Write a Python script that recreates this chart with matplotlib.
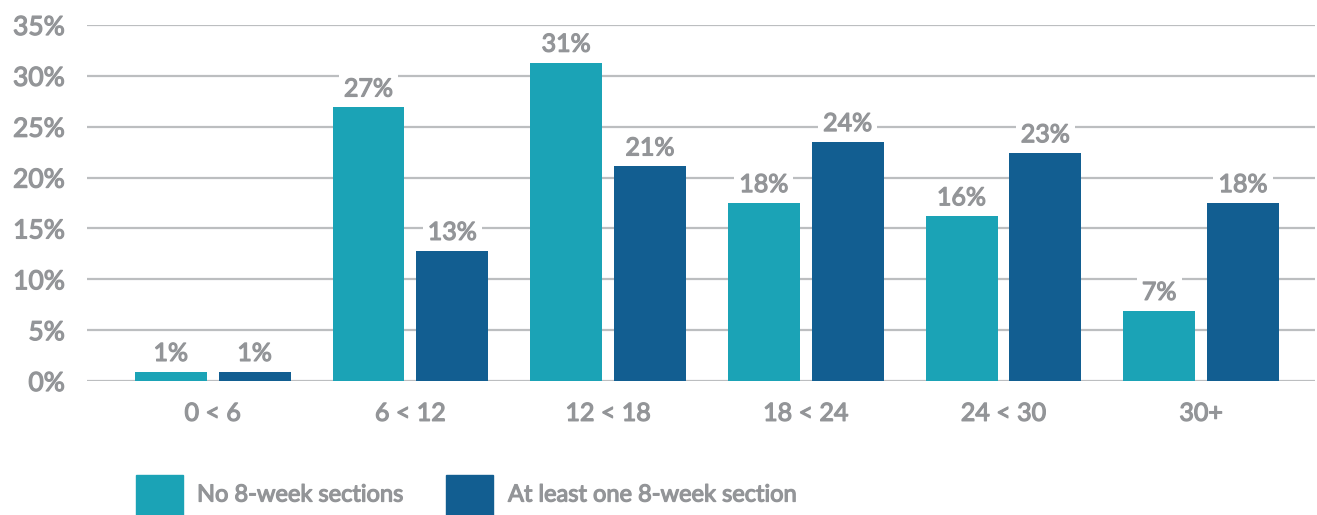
import matplotlib.pyplot as plt
import matplotlib.patheffects as pe
from matplotlib.patches import Rectangle
import numpy as np

plt.rcParams['font.family'] = ['Lato', 'DejaVu Sans']

categories = ['0 < 6', '6 < 12', '12 < 18', '18 < 24', '24 < 30', '30+']
no_8week = [0.9, 26.9, 31.3, 17.5, 16.2, 6.9]
one_8week = [0.9, 12.8, 21.1, 23.5, 22.4, 17.5]
no_labels = ['1%', '27%', '31%', '18%', '16%', '7%']
one_labels = ['1%', '13%', '21%', '24%', '23%', '18%']
series_names = ['No 8-week sections', 'At least one 8-week section']

teal = '#1BA3B6'
navy = '#125E91'
grey_txt = '#939598'
grid_col = '#BCBEC0'
thick = [pe.withStroke(linewidth=0.9, foreground=grey_txt)]

W, H = 1317, 515
fig = plt.figure(figsize=(W / 100, H / 100), dpi=100)
ax = fig.add_axes([87 / W, 1 - 381 / H, (1315 - 87) / W, (381 - 25) / H])

x = np.arange(len(categories))
bw = 0.364
off = 0.212
b1 = ax.bar(x - off, no_8week, bw, color=teal, zorder=3)
b2 = ax.bar(x + off, one_8week, bw, color=navy, zorder=3)

for bars, labs in [(b1, no_labels), (b2, one_labels)]:
    for r, lab in zip(bars, labs):
        ax.annotate(lab, (r.get_x() + r.get_width() / 2, r.get_height()),
                    xytext=(0, 5), textcoords='offset points',
                    ha='center', va='bottom', fontsize=18,
                    color=grey_txt, zorder=4, path_effects=thick,
                    bbox=dict(boxstyle='square,pad=0.2', fc='white', ec='none'))

ax.set_xlim(-0.636, 5.576)
ax.set_ylim(0, 35)
ax.set_yticks(range(0, 36, 5))
ax.set_yticklabels([f'{v}%' for v in range(0, 36, 5)])
ax.set_xticks(x)
ax.set_xticklabels(categories)
ax.yaxis.grid(True, color=grid_col, lw=1.6, zorder=0)
ax.set_axisbelow(True)
for s in ax.spines.values():
    s.set_visible(False)
ax.tick_params(axis='y', length=0, pad=16, labelsize=19, labelcolor=grey_txt)
ax.tick_params(axis='x', length=0, pad=15, labelsize=18, labelcolor=grey_txt)
for t in ax.get_xticklabels() + ax.get_yticklabels():
    t.set_path_effects(thick)

# legend
for (x0, tx, col, name) in [(136, 197, teal, series_names[0]),
                            (446, 508, navy, series_names[1])]:
    fig.add_artist(Rectangle((x0 / W, 0), 47 / W, 40 / H, transform=fig.transFigure,
                             color=col))
    fig.text(tx / W, 1 - 495 / H, name, ha='left', va='center',
             fontsize=17, color=grey_txt, path_effects=thick)

fig.savefig('out.png', dpi=100)
